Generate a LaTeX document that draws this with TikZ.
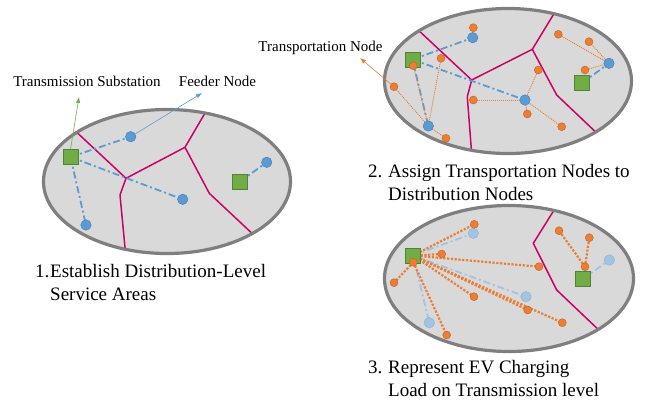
\documentclass[tikz,border=0pt]{standalone}
\usepackage{fontspec}
\setmainfont{Liberation Serif}
\usepackage{xcolor}
\definecolor{areafill}{RGB}{217,217,217}
\definecolor{edgegray}{RGB}{127,127,127}
\definecolor{boundred}{RGB}{204,0,102}
\definecolor{feedblue}{RGB}{91,155,213}
\definecolor{paleblue}{RGB}{160,196,228}
\definecolor{tnorange}{RGB}{237,125,49}
\definecolor{subgreen}{RGB}{112,173,71}
\usepackage{tikz}
\usetikzlibrary{arrows.meta, positioning, calc}
\pgfdeclarelayer{back}
\pgfdeclarelayer{links}
\pgfsetlayers{back,links,main}

\begin{document}
\begin{tikzpicture}[x=1pt, y=-1pt,
        area/.style={fill=areafill},
        areaedge/.style={draw=edgegray, line width=3.2pt},
        boundary/.style={draw=boundred, line width=1.5pt, line join=round},
        subst/.style={rectangle, fill=subgreen, draw=subgreen!75!black, line width=0.4pt, minimum size=15pt, inner sep=0pt},
        feeder/.style={circle, fill=feedblue, draw=feedblue!80!black, line width=0.4pt, minimum size=10.5pt, inner sep=0pt},
        oldfeeder/.style={feeder, fill=paleblue, draw=paleblue!90!black},
        tnode/.style={circle, fill=tnorange, draw=tnorange!80!black, line width=0.4pt, minimum size=8pt, inner sep=0pt},
        feed/.style={draw=feedblue, line width=1.8pt, dash pattern=on 7pt off 3pt on 2pt off 3pt},
        oldfeed/.style={feed, draw=paleblue},
        assign/.style={draw=tnorange, line width=0.9pt, dash pattern=on 1pt off 1pt},
        load/.style={draw=tnorange, line width=2.2pt, dash pattern=on 2.2pt off 1.6pt},
        callout/.style={-{Latex[length=6pt,width=4.5pt]}, line width=0.6pt},
        note/.style={font=\fontsize{15}{18}\selectfont, inner sep=0pt, anchor=base},
        caption/.style={font=\fontsize{19}{22.5}\selectfont, align=left, inner sep=0pt, anchor=base west}]

    \useasboundingbox (0,0) rectangle (649,400);

    % service areas with their boundaries
    \begin{pgfonlayer}{back}
        \fill[area] (167,181.5) ellipse [x radius=123.5pt, y radius=72pt];
        \begin{scope}
            \clip (167,181.5) ellipse [x radius=123.5pt, y radius=72pt];
            \draw[boundary] (70,126) -- (126,178.3) -- (185,147.3) -- (208,108);
            \draw[boundary] (126,178.3) -- (120,195) -- (126,258);
            \draw[boundary] (185,147.3) -- (209.3,193.3) -- (257,238);
        \end{scope}
        \draw[areaedge] (167,181.5) ellipse [x radius=123.5pt, y radius=72pt];

        \fill[area] (508,81) ellipse [x radius=123.5pt, y radius=72.5pt];
        \begin{scope}
            \clip (508,81) ellipse [x radius=123.5pt, y radius=72.5pt];
            \draw[boundary] (416,28) -- (471.7,80) -- (532.3,49.3) -- (555,12);
            \draw[boundary] (471.7,80) -- (467.3,96.7) -- (472,158);
            \draw[boundary] (532.3,49.3) -- (556.7,95) -- (602,138);
        \end{scope}
        \draw[areaedge] (508,81) ellipse [x radius=123.5pt, y radius=72.5pt];

        \fill[area] (509,278.5) ellipse [x radius=124.5pt, y radius=73pt];
        \begin{scope}
            \clip (509,278.5) ellipse [x radius=124.5pt, y radius=73pt];
            \draw[boundary] (556,207) -- (533.3,243.3) -- (556.7,290) -- (603,334);
        \end{scope}
        \draw[areaedge] (509,278.5) ellipse [x radius=124.5pt, y radius=73pt];
    \end{pgfonlayer}

    % 1. distribution-level service areas
    \node[subst] (s1a) at (70.5,157) {};
    \node[subst] (s1b) at (240,181.5) {};
    \node[feeder] (f1a) at (130.7,136.7) {};
    \node[feeder] (f1b) at (182.7,199.3) {};
    \node[feeder] (f1c) at (86,225) {};
    \node[feeder] (f1d) at (266.7,162.3) {};

    % 2. transportation nodes assigned to feeders
    \node[subst] (s2a) at (412.5,59.5) {};
    \node[subst] (s2b) at (582,83) {};
    \node[feeder] (f2a) at (472.7,37.7) {};
    \node[feeder] (f2b) at (428.3,126) {};
    \node[feeder] (f2c) at (525,100) {};
    \node[feeder] (f2d) at (609,63.3) {};
    \foreach \name/\pos in {a/{473.3,27.7}, b/{441,58.3}, c/{413.3,65.7}, d/{394,86.7},
            e/{446,138.3}, f/{473.3,100}, g/{538.3,70}, h/{527.3,114},
            i/{561.7,126.7}, j/{558.3,34.3}, k/{589,41.7}, l/{585,70}}
        \node[tnode] (t2\name) at (\pos) {};

    % 3. charging load moved to the transmission level
    \node[subst] (s3a) at (413,255.5) {};
    \node[subst] (s3b) at (583,279) {};
    \node[oldfeeder] (f3a) at (473.3,233.3) {};
    \node[oldfeeder] (f3b) at (429.3,322.7) {};
    \node[oldfeeder] (f3c) at (526,296.7) {};
    \node[oldfeeder] (f3d) at (609.3,260) {};
    \foreach \name/\pos in {a/{474.3,224.3}, b/{441.7,254}, c/{413.3,262.3}, d/{394,282.7},
            e/{446.7,335}, f/{474,296.7}, g/{539,266.7}, h/{527.7,310},
            i/{562.3,322.7}, j/{559,230.7}, k/{589.3,237.7}, l/{585,266.7}}
        \node[tnode] (t3\name) at (\pos) {};

    \begin{pgfonlayer}{links}
        \foreach \f in {f1a, f1b, f1c}
            \path[feed] (s1a.center) -- (\f.center);
        \path[feed] (s1b.center) -- (f1d.center);

        \foreach \f in {f2a, f2b, f2c}
            \path[feed] (s2a.center) -- (\f.center);
        \path[feed] (s2b.center) -- (f2d.center);
        \foreach \t in {a}
            \path[assign] (t2\t.center) -- (f2a.center);
        \foreach \t in {b, c, d, e}
            \path[assign] (t2\t.center) -- (f2b.center);
        \foreach \t in {f, g, h, i}
            \path[assign] (t2\t.center) -- (f2c.center);
        \foreach \t in {j, k, l}
            \path[assign] (t2\t.center) -- (f2d.center);

        \foreach \f in {f3a, f3b, f3c}
            \path[oldfeed] (s3a.center) -- (\f.center);
        \path[oldfeed] (s3b.center) -- (f3d.center);
        \foreach \t in {a, b, f, g, h, i}
            \path[load] (s3a.center) -- (t3\t.center);
        \foreach \t in {d, e}
            \path[load] (t3c.center) -- (t3\t.center);
        \foreach \t in {j, k}
            \path[load] (t3l.center) -- (t3\t.center);
    \end{pgfonlayer}

    % labels
    \node[note] (substlabel) at (87,86.5) {Transmission Substation};
    \node[note] (feederlabel) at (217.5,86.5) {Feeder Node};
    \node[note] (tnodelabel) at (320.5,51) {Transportation Node};
    \coordinate (substtip) at (79,97);
    \coordinate (feedertip) at (202,93);
    \coordinate (tnodetip) at (360,58);
    \draw[callout, subgreen] (s1a.north) -- (substtip);
    \draw[callout, feedblue] (f1a) -- (feedertip);
    \draw[callout, tnorange] (t2d) -- (tnodetip);

    % captions: the base anchor sits on the last line
    \node[caption] (num1) at (35,277.5) {1.};
    \node[caption] (cap1) at (50,300) {Establish Distribution-Level\\Service Areas};
    \node[caption] (num2) at (368,177.5) {2.};
    \node[caption] (cap2) at (388,200) {Assign Transportation Nodes to\\Distribution Nodes};
    \node[caption] (num3) at (368,373.5) {3.};
    \node[caption] (cap3) at (388,396) {Represent EV Charging\\Load on Transmission level};
\end{tikzpicture}
\end{document}
